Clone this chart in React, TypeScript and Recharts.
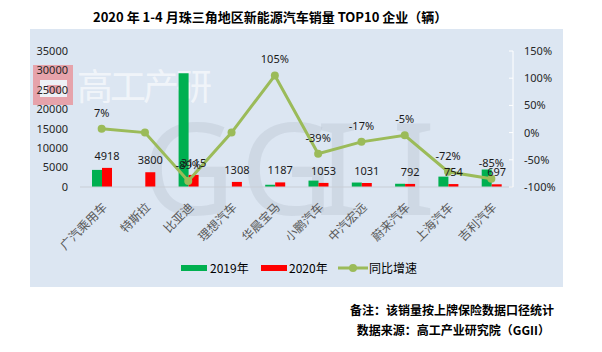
import {
  ComposedChart,
  Bar,
  Line,
  XAxis,
  YAxis,
  LabelList,
} from 'recharts';

const companies = [
  '广汽乘用车',
  '特斯拉',
  '比亚迪',
  '理想汽车',
  '华晨宝马',
  '小鹏汽车',
  '中汽宏远',
  '蔚来汽车',
  '上海汽车',
  '吉利汽车',
];
const sales2019 = [4400, 0, 29300, 0, 579, 1650, 1150, 834, 2670, 4500];
const sales2020 = [4918, 3800, 3115, 1308, 1187, 1053, 1031, 792, 754, 697];
// 0 = no 2019 base, plotted but not labelled
const growth = [7, 0, -89, 0, 105, -39, -17, -5, -72, -85];

const leftTicks = [0, 5000, 10000, 15000, 20000, 25000, 30000, 35000];
const rightTicks = [-100, -50, 0, 50, 100, 150];

const GREEN = '#00B050';
const RED = '#FF0000';
const OLIVE = '#9BBB59';
const FONT = '"Noto Sans", "Noto Sans CJK SC", sans-serif';
const CJK = '"Noto Sans CJK SC", sans-serif';

const data = companies.map((name, i) => ({
  name,
  y2019: sales2019[i],
  y2020: sales2020[i],
  growth: growth[i],
}));

function Watermark() {
  return (
    <svg
      width={602}
      height={352}
      style={{ position: 'absolute', left: 0, top: 0 }}
    >
      <rect x={33} y={65} width={40} height={40} fill="#E6A3AB" />
      <rect x={40} y={80} width={27} height={17} fill="#EEF1F6" />
      <rect x={47} y={85} width={14} height={8} fill="#E6A3AB" />
      <text
        x={77}
        y={100}
        fontSize={36}
        fontFamily={CJK}
        fill="#FFFFFF"
        fillOpacity={0.6}
        textLength={135}
        lengthAdjust="spacing"
      >
        高工产研
      </text>
      <g fontFamily={FONT} fontSize={128} fill="#B9C3CF" fillOpacity={0.4}>
        <text x={142} y={215}>G</text>
        <text x={240} y={215}>G</text>
        <text x={316} y={215}>I</text>
        <text x={392} y={215}>I</text>
      </g>
    </svg>
  );
}

function LegendRow() {
  const item: React.CSSProperties = {
    position: 'absolute',
    top: 260,
    fontFamily: CJK,
    fontSize: 12,
    color: '#000',
    lineHeight: '16px',
  };
  return (
    <>
      <div style={{ position: 'absolute', left: 181, top: 265, width: 26, height: 6, background: GREEN }} />
      <div style={{ ...item, left: 210 }}>2019年</div>
      <div style={{ position: 'absolute', left: 261, top: 265, width: 26, height: 6, background: RED }} />
      <div style={{ ...item, left: 289 }}>2020年</div>
      <svg width={32} height={12} style={{ position: 'absolute', left: 337, top: 262 }}>
        <line x1={1} y1={6} x2={31} y2={6} stroke={OLIVE} strokeWidth={3} />
        <circle cx={16} cy={6} r={4} fill={OLIVE} />
      </svg>
      <div style={{ ...item, left: 369 }}>同比增速</div>
    </>
  );
}

export default function App() {
  return (
    <div
      style={{
        position: 'relative',
        width: 602,
        height: 352,
        margin: -8,
        background: '#fff',
        overflow: 'hidden',
      }}
    >
      <div
        style={{
          position: 'absolute',
          left: 93,
          top: 8,
          fontFamily: CJK,
          fontWeight: 700,
          fontSize: 13,
          lineHeight: '18px',
          whiteSpace: 'nowrap',
        }}
      >
        2020 年 1-4 月珠三角地区新能源汽车销量 TOP10 企业（辆）
      </div>
      <div
        style={{
          position: 'absolute',
          left: 30,
          top: 29,
          width: 533,
          height: 258,
          background: '#DCE6F2',
        }}
      />
      <Watermark />
      <div style={{ position: 'absolute', left: 0, top: 0 }}>
        <ComposedChart
          width={602}
          height={352}
          data={data}
          margin={{ top: 51, right: 39, left: 30, bottom: 105 }}
          barGap={0}
        >
          <XAxis
            dataKey="name"
            height={60}
            interval={0}
            tickLine={false}
            tickMargin={9}
            axisLine={{ stroke: '#C9CED6' }}
            angle={-45}
            textAnchor="end"
            tick={{ fontSize: 12, fill: '#595959', fontFamily: CJK }}
          />
          <YAxis
            yAxisId="left"
            width={50}
            domain={[0, 35000]}
            ticks={leftTicks}
            interval={0}
            axisLine={false}
            tickLine={false}
            tickMargin={6}
            tick={{ fontSize: 11, fill: '#262626', fontFamily: FONT }}
          />
          <YAxis
            yAxisId="right"
            orientation="right"
            width={50}
            domain={[-100, 150]}
            ticks={rightTicks}
            interval={0}
            axisLine={{ stroke: '#FFFFFF' }}
            tickLine={{ stroke: '#FFFFFF' }}
            tickSize={-4}
            tickMargin={15}
            tickFormatter={(v: number) => `${v}%`}
            tick={{ fontSize: 11, fill: '#262626', fontFamily: FONT }}
          />
          <Bar
            yAxisId="left"
            dataKey="y2019"
            name="2019年"
            fill={GREEN}
            barSize={10}
            isAnimationActive={false}
          />
          <Bar
            yAxisId="left"
            dataKey="y2020"
            name="2020年"
            fill={RED}
            barSize={10}
            isAnimationActive={false}
          >
            <LabelList
              dataKey="y2020"
              position="top"
              offset={8}
              style={{ fontSize: 11, fill: '#1a1a1a', fontFamily: FONT }}
            />
          </Bar>
          <Line
            yAxisId="right"
            dataKey="growth"
            name="同比增速"
            stroke={OLIVE}
            strokeWidth={3}
            dot={{ r: 4, fill: OLIVE, stroke: OLIVE, strokeWidth: 0 }}
            isAnimationActive={false}
          >
            <LabelList
              dataKey="growth"
              position="top"
              offset={12}
              formatter={(v: number) => (v === 0 ? '' : `${v}%`)}
              style={{ fontSize: 11, fill: '#1a1a1a', fontFamily: FONT }}
            />
          </Line>
        </ComposedChart>
      </div>
      <LegendRow />
      <div
        style={{
          position: 'absolute',
          right: 48,
          top: 302,
          fontFamily: CJK,
          fontWeight: 700,
          fontSize: 12,
          lineHeight: '16px',
          textAlign: 'right',
          whiteSpace: 'nowrap',
        }}
      >
        <div>备注：该销量按上牌保险数据口径统计</div>
        <div style={{ marginTop: 4, marginRight: 4 }}>数据来源：高工产业研究院（GGII）</div>
      </div>
    </div>
  );
}
